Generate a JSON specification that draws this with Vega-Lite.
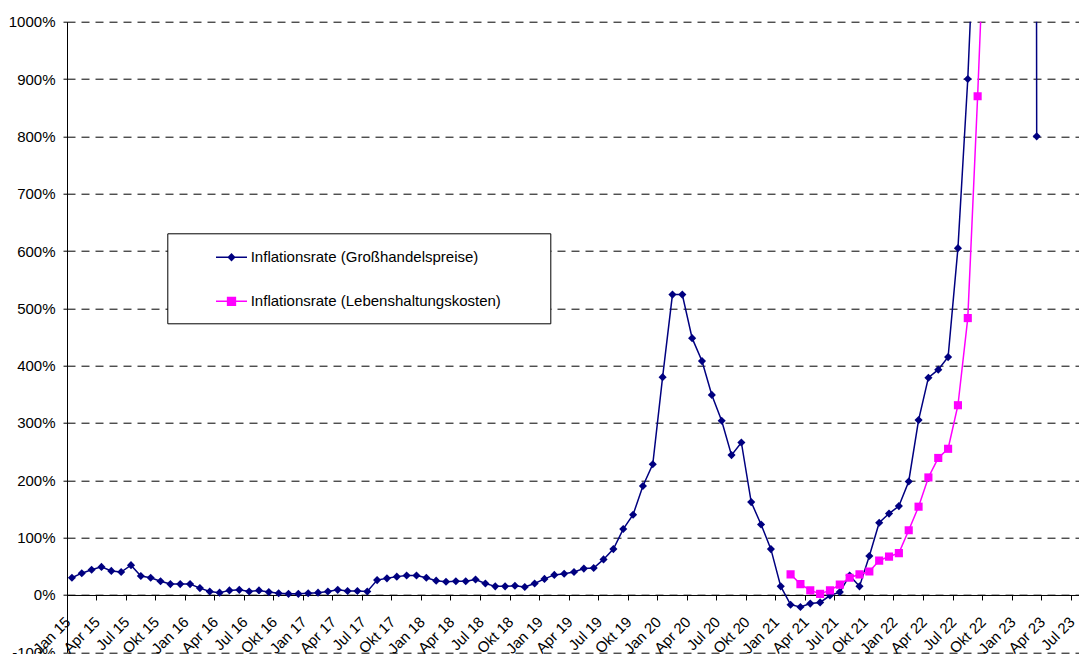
{
  "$schema": "https://vega.github.io/schema/vega-lite/v6.json",
  "width": 1014,
  "height": 630.6,
  "autosize": {"type": "none"},
  "padding": {"left": 67, "top": 21.7, "right": 0, "bottom": 1.7},
  "background": "white",
  "config": {"view": {"stroke": null}, "font": "Liberation Sans"},
  "data": {"values": [
    {"Monat":"Jan 15","Großhandelspreise":30},{"Monat":"Feb 15","Großhandelspreise":38},{"Monat":"Mär 15","Großhandelspreise":44},{"Monat":"Apr 15","Großhandelspreise":49},{"Monat":"Mai 15","Großhandelspreise":42},{"Monat":"Jun 15","Großhandelspreise":40},{"Monat":"Jul 15","Großhandelspreise":52},{"Monat":"Aug 15","Großhandelspreise":33},{"Monat":"Sep 15","Großhandelspreise":30},{"Monat":"Okt 15","Großhandelspreise":24},{"Monat":"Nov 15","Großhandelspreise":19},{"Monat":"Dez 15","Großhandelspreise":19},
    {"Monat":"Jan 16","Großhandelspreise":19},{"Monat":"Feb 16","Großhandelspreise":12},{"Monat":"Mär 16","Großhandelspreise":6},{"Monat":"Apr 16","Großhandelspreise":4},{"Monat":"Mai 16","Großhandelspreise":8},{"Monat":"Jun 16","Großhandelspreise":9},{"Monat":"Jul 16","Großhandelspreise":6},{"Monat":"Aug 16","Großhandelspreise":8},{"Monat":"Sep 16","Großhandelspreise":5},{"Monat":"Okt 16","Großhandelspreise":3},{"Monat":"Nov 16","Großhandelspreise":2},{"Monat":"Dez 16","Großhandelspreise":2},
    {"Monat":"Jan 17","Großhandelspreise":3},{"Monat":"Feb 17","Großhandelspreise":4},{"Monat":"Mär 17","Großhandelspreise":6},{"Monat":"Apr 17","Großhandelspreise":9},{"Monat":"Mai 17","Großhandelspreise":7},{"Monat":"Jun 17","Großhandelspreise":7},{"Monat":"Jul 17","Großhandelspreise":6},{"Monat":"Aug 17","Großhandelspreise":26},{"Monat":"Sep 17","Großhandelspreise":29},{"Monat":"Okt 17","Großhandelspreise":32},{"Monat":"Nov 17","Großhandelspreise":34},{"Monat":"Dez 17","Großhandelspreise":34},
    {"Monat":"Jan 18","Großhandelspreise":30},{"Monat":"Feb 18","Großhandelspreise":25},{"Monat":"Mär 18","Großhandelspreise":23},{"Monat":"Apr 18","Großhandelspreise":24},{"Monat":"Mai 18","Großhandelspreise":24},{"Monat":"Jun 18","Großhandelspreise":27},{"Monat":"Jul 18","Großhandelspreise":20},{"Monat":"Aug 18","Großhandelspreise":15},{"Monat":"Sep 18","Großhandelspreise":15},{"Monat":"Okt 18","Großhandelspreise":16},{"Monat":"Nov 18","Großhandelspreise":14},{"Monat":"Dez 18","Großhandelspreise":20},
    {"Monat":"Jan 19","Großhandelspreise":28},{"Monat":"Feb 19","Großhandelspreise":35},{"Monat":"Mär 19","Großhandelspreise":37},{"Monat":"Apr 19","Großhandelspreise":40},{"Monat":"Mai 19","Großhandelspreise":46},{"Monat":"Jun 19","Großhandelspreise":47},{"Monat":"Jul 19","Großhandelspreise":62},{"Monat":"Aug 19","Großhandelspreise":80},{"Monat":"Sep 19","Großhandelspreise":115},{"Monat":"Okt 19","Großhandelspreise":140},{"Monat":"Nov 19","Großhandelspreise":190},{"Monat":"Dez 19","Großhandelspreise":228},
    {"Monat":"Jan 20","Großhandelspreise":380},{"Monat":"Feb 20","Großhandelspreise":524},{"Monat":"Mär 20","Großhandelspreise":524},{"Monat":"Apr 20","Großhandelspreise":448},{"Monat":"Mai 20","Großhandelspreise":408},{"Monat":"Jun 20","Großhandelspreise":349},{"Monat":"Jul 20","Großhandelspreise":304},{"Monat":"Aug 20","Großhandelspreise":244},{"Monat":"Sep 20","Großhandelspreise":266},{"Monat":"Okt 20","Großhandelspreise":162},{"Monat":"Nov 20","Großhandelspreise":123},{"Monat":"Dez 20","Großhandelspreise":80},
    {"Monat":"Jan 21","Großhandelspreise":15},{"Monat":"Feb 21","Großhandelspreise":-17,"Lebenshaltungskosten":36},{"Monat":"Mär 21","Großhandelspreise":-21,"Lebenshaltungskosten":19},{"Monat":"Apr 21","Großhandelspreise":-15,"Lebenshaltungskosten":8},{"Monat":"Mai 21","Großhandelspreise":-13,"Lebenshaltungskosten":2},{"Monat":"Jun 21","Großhandelspreise":-1,"Lebenshaltungskosten":8},{"Monat":"Jul 21","Großhandelspreise":5,"Lebenshaltungskosten":18},{"Monat":"Aug 21","Großhandelspreise":34,"Lebenshaltungskosten":30},{"Monat":"Sep 21","Großhandelspreise":15,"Lebenshaltungskosten":36},{"Monat":"Okt 21","Großhandelspreise":68,"Lebenshaltungskosten":41},{"Monat":"Nov 21","Großhandelspreise":126,"Lebenshaltungskosten":60},{"Monat":"Dez 21","Großhandelspreise":142,"Lebenshaltungskosten":67},
    {"Monat":"Jan 22","Großhandelspreise":155,"Lebenshaltungskosten":73},{"Monat":"Feb 22","Großhandelspreise":198,"Lebenshaltungskosten":113},{"Monat":"Mär 22","Großhandelspreise":305,"Lebenshaltungskosten":154},{"Monat":"Apr 22","Großhandelspreise":379,"Lebenshaltungskosten":205},{"Monat":"Mai 22","Großhandelspreise":393,"Lebenshaltungskosten":239},{"Monat":"Jun 22","Großhandelspreise":415,"Lebenshaltungskosten":255},{"Monat":"Jul 22","Großhandelspreise":605,"Lebenshaltungskosten":331},{"Monat":"Aug 22","Großhandelspreise":900,"Lebenshaltungskosten":483},{"Monat":"Sep 22","Großhandelspreise":1300,"Lebenshaltungskosten":870},{"Monat":"Okt 22","Großhandelspreise":2200,"Lebenshaltungskosten":1300},{"Monat":"Nov 22","Großhandelspreise":4400,"Lebenshaltungskosten":2200},{"Monat":"Dez 22","Großhandelspreise":6300,"Lebenshaltungskosten":3500},
    {"Monat":"Jan 23","Großhandelspreise":7500},{"Monat":"Feb 23","Großhandelspreise":13500},{"Monat":"Mär 23","Großhandelspreise":800},{"Monat":"Apr 23"},{"Monat":"Mai 23"},{"Monat":"Jun 23"},{"Monat":"Jul 23"}
  ]},
  "transform": [{"fold": ["Großhandelspreise", "Lebenshaltungskosten"], "as": ["Reihe", "Wert"]}],
  "encoding": {
    "x": {
      "field": "Monat", "type": "ordinal",
      "sort": ["Jan 15","Feb 15","Mär 15","Apr 15","Mai 15","Jun 15","Jul 15","Aug 15","Sep 15","Okt 15","Nov 15","Dez 15","Jan 16","Feb 16","Mär 16","Apr 16","Mai 16","Jun 16","Jul 16","Aug 16","Sep 16","Okt 16","Nov 16","Dez 16","Jan 17","Feb 17","Mär 17","Apr 17","Mai 17","Jun 17","Jul 17","Aug 17","Sep 17","Okt 17","Nov 17","Dez 17","Jan 18","Feb 18","Mär 18","Apr 18","Mai 18","Jun 18","Jul 18","Aug 18","Sep 18","Okt 18","Nov 18","Dez 18","Jan 19","Feb 19","Mär 19","Apr 19","Mai 19","Jun 19","Jul 19","Aug 19","Sep 19","Okt 19","Nov 19","Dez 19","Jan 20","Feb 20","Mär 20","Apr 20","Mai 20","Jun 20","Jul 20","Aug 20","Sep 20","Okt 20","Nov 20","Dez 20","Jan 21","Feb 21","Mär 21","Apr 21","Mai 21","Jun 21","Jul 21","Aug 21","Sep 21","Okt 21","Nov 21","Dez 21","Jan 22","Feb 22","Mär 22","Apr 22","Mai 22","Jun 22","Jul 22","Aug 22","Sep 22","Okt 22","Nov 22","Dez 22","Jan 23","Feb 23","Mär 23","Apr 23","Mai 23","Jun 23","Jul 23"],
      "scale": {
        "domain": ["Jan 15","Feb 15","Mär 15","Apr 15","Mai 15","Jun 15","Jul 15","Aug 15","Sep 15","Okt 15","Nov 15","Dez 15","Jan 16","Feb 16","Mär 16","Apr 16","Mai 16","Jun 16","Jul 16","Aug 16","Sep 16","Okt 16","Nov 16","Dez 16","Jan 17","Feb 17","Mär 17","Apr 17","Mai 17","Jun 17","Jul 17","Aug 17","Sep 17","Okt 17","Nov 17","Dez 17","Jan 18","Feb 18","Mär 18","Apr 18","Mai 18","Jun 18","Jul 18","Aug 18","Sep 18","Okt 18","Nov 18","Dez 18","Jan 19","Feb 19","Mär 19","Apr 19","Mai 19","Jun 19","Jul 19","Aug 19","Sep 19","Okt 19","Nov 19","Dez 19","Jan 20","Feb 20","Mär 20","Apr 20","Mai 20","Jun 20","Jul 20","Aug 20","Sep 20","Okt 20","Nov 20","Dez 20","Jan 21","Feb 21","Mär 21","Apr 21","Mai 21","Jun 21","Jul 21","Aug 21","Sep 21","Okt 21","Nov 21","Dez 21","Jan 22","Feb 22","Mär 22","Apr 22","Mai 22","Jun 22","Jul 22","Aug 22","Sep 22","Okt 22","Nov 22","Dez 22","Jan 23","Feb 23","Mär 23","Apr 23","Mai 23","Jun 23","Jul 23"],
        "type": "band", "paddingInner": 0, "paddingOuter": 0
      },
      "axis": {
        "values": ["Jan 15","Apr 15","Jul 15","Okt 15","Jan 16","Apr 16","Jul 16","Okt 16","Jan 17","Apr 17","Jul 17","Okt 17","Jan 18","Apr 18","Jul 18","Okt 18","Jan 19","Apr 19","Jul 19","Okt 19","Jan 20","Apr 20","Jul 20","Okt 20","Jan 21","Apr 21","Jul 21","Okt 21","Jan 22","Apr 22","Jul 22","Okt 22","Jan 23","Apr 23","Jul 23"],
        "bandPosition": 0,
        "offset": -57.33,
        "title": null,
        "grid": false,
        "labelAngle": -45,
        "labelAlign": "right",
        "labelBaseline": "middle",
        "labelPadding": 19,
        "labelOffset": -4,
        "labelFont": "Liberation Sans",
        "labelFontSize": 15,
        "labelColor": "#000000",
        "labelOverlap": false,
        "labelBound": false,
        "tickSize": 5,
        "tickColor": "#000000",
        "domainColor": "#000000",
        "domainWidth": 1
      }
    },
    "y": {
      "field": "Wert", "type": "quantitative",
      "scale": {"domain": [-100, 1000], "nice": false, "zero": false},
      "axis": {
        "values": [-100, 0, 100, 200, 300, 400, 500, 600, 700, 800, 900, 1000],
        "labelExpr": "datum.value + '%'",
        "title": null,
        "grid": true,
        "gridColor": "#000000",
        "gridDash": [8, 6],
        "gridWidth": 1,
        "tickSize": 4,
        "tickColor": "#000000",
        "domainColor": "#000000",
        "labelPadding": 8,
        "labelFont": "Liberation Sans",
        "labelFontSize": 15,
        "labelColor": "#000000",
        "labelOverlap": false,
        "labelBound": false
      }
    }
  },
  "layer": [
    {
      "transform": [{"filter": "datum.Reihe === 'Großhandelspreise'"}],
      "mark": {"type": "line", "strokeWidth": 1.5, "color": "#000080", "clip": true}
    },
    {
      "transform": [{"filter": "datum.Reihe === 'Lebenshaltungskosten'"}],
      "mark": {"type": "line", "strokeWidth": 1.5, "color": "#FF00FF", "clip": true}
    },
    {
      "transform": [{"filter": "datum.Reihe === 'Großhandelspreise'"}],
      "mark": {"type": "point", "filled": true, "shape": "diamond", "color": "#000080", "size": 66, "opacity": 1, "clip": true}
    },
    {
      "transform": [{"filter": "datum.Reihe === 'Lebenshaltungskosten'"}],
      "mark": {"type": "point", "filled": true, "shape": "square", "color": "#FF00FF", "size": 66, "opacity": 1, "clip": true}
    },
    {
      "transform": [{"filter": "datum.Wert > 1000"}],
      "mark": {"type": "point", "filled": true, "size": 961, "opacity": 1, "clip": true},
      "encoding": {
        "fill": {
          "field": "Reihe", "type": "nominal",
          "scale": {"domain": ["Großhandelspreise", "Lebenshaltungskosten"], "range": ["#000080", "#FF00FF"]},
          "legend": {
            "orient": "none",
            "legendX": 100.3,
            "legendY": 211.6,
            "title": null,
            "fillColor": "#ffffff",
            "strokeColor": "#000000",
            "padding": 8.5,
            "symbolSize": 961,
            "symbolStrokeWidth": 0,
            "symbolOpacity": 1,
            "symbolOffset": 40.2,
            "labelOffset": 3.7,
            "rowPadding": 15,
            "labelFont": "Liberation Sans",
            "labelFontSize": 15,
            "labelColor": "#000000",
            "labelLimit": 0,
            "labelExpr": "'Inflationsrate (' + datum.label + ')'"
          }
        },
        "shape": {
          "field": "Reihe", "type": "nominal",
          "scale": {"domain": ["Großhandelspreise", "Lebenshaltungskosten"], "range": ["M-1,-0.05H1V0.05H-1Z M0,-0.27L0.27,0L0,0.27L-0.27,0Z M20,0.85L20,0.85", "M-1,-0.05H1V0.05H-1Z M-0.3,-0.3H0.3V0.3H-0.3Z M20,0.85L20,0.85"]},
          "legend": {
            "orient": "none",
            "legendX": 100.3,
            "legendY": 211.6,
            "title": null,
            "fillColor": "#ffffff",
            "strokeColor": "#000000",
            "padding": 8.5,
            "symbolSize": 961,
            "symbolStrokeWidth": 0,
            "symbolOpacity": 1,
            "symbolOffset": 40.2,
            "labelOffset": 3.7,
            "rowPadding": 15,
            "labelFont": "Liberation Sans",
            "labelFontSize": 15,
            "labelColor": "#000000",
            "labelLimit": 0,
            "labelExpr": "'Inflationsrate (' + datum.label + ')'"
          }
        }
      }
    }
  ]
}
